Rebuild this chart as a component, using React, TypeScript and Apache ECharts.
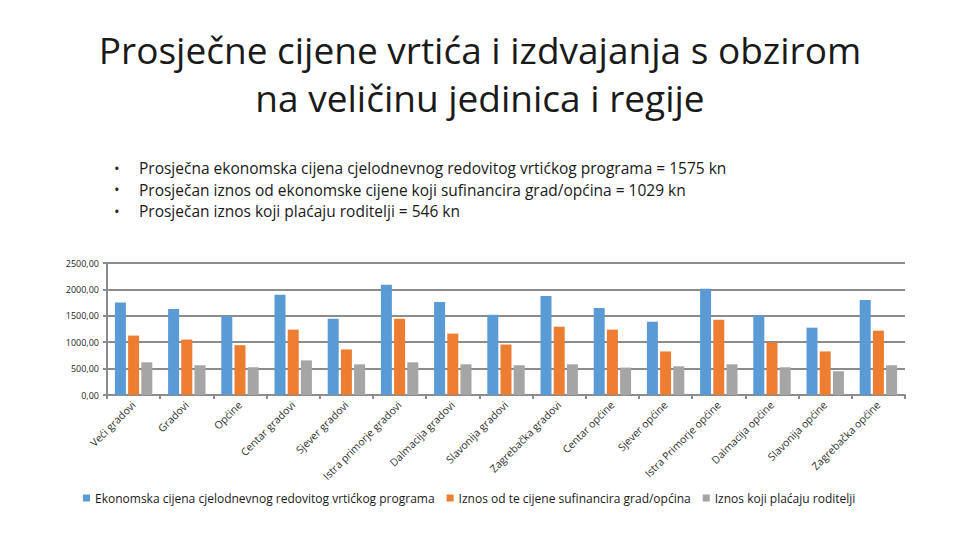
import React, { useEffect, useRef } from "react";
import * as echarts from "echarts";

const categories = [
  "Veći gradovi",
  "Gradovi",
  "Općine",
  "Centar gradovi",
  "Sjever gradovi",
  "Istra primorje gradovi",
  "Dalmacija gradovi",
  "Slavonija gradovi",
  "Zagrebačka gradovi",
  "Centar općine",
  "Sjever općine",
  "Istra Primorje općine",
  "Dalmacija općine",
  "Slavonija općine",
  "Zagrebačka općine",
];

const seriesNames = [
  "Ekonomska cijena cjelodnevnog redovitog vrtićkog programa",
  "Iznos od te cijene sufinancira grad/općina",
  "Iznos koji plaćaju roditelji",
];

const economicPrice = [1750, 1631, 1494, 1900, 1444, 2088, 1763, 1519, 1875, 1650, 1388, 2013, 1506, 1275, 1800];
const cityShare = [1125, 1050, 944, 1238, 863, 1444, 1163, 956, 1294, 1238, 825, 1425, 1000, 825, 1219];
const parentShare = [619, 563, 525, 656, 581, 619, 581, 563, 581, 519, 544, 581, 525, 450, 563];

const titleLines = ["Prosječne cijene vrtića i izdvajanja s obzirom", "na veličinu jedinica i regije"];
const bullets = [
  "Prosječna ekonomska cijena cjelodnevnog redovitog vrtićkog programa = 1575 kn",
  "Prosječan iznos od ekonomske cijene koji sufinancira grad/općina = 1029 kn",
  "Prosječan iznos koji plaćaju roditelji = 546 kn",
];

const colors = ["#5b9bd5", "#ed7d31", "#a5a5a5"];

export default function App() {
  const ref = useRef<HTMLDivElement>(null);
  useEffect(() => {
    if (!ref.current) return;
    const chart = echarts.init(ref.current, null, { renderer: "svg" });
    const dataSets = [economicPrice, cityShare, parentShare];
    const font = "'Open Sans', 'Liberation Sans', sans-serif";
    chart.setOption({
      animation: false,
      color: colors,
      graphic: [
        ...titleLines.map((t, i) => ({
          type: "text",
          left: "center",
          top: 31 + i * 48,
          style: { text: t, font: `37px ${font}`, fill: "#1a1a1a" },
        })),
        ...bullets.map((t, i) => ({
          type: "group",
          left: 114,
          top: 160 + i * 21.5,
          children: [
            { type: "text", x: 0, y: 0, style: { text: "•", font: `15px ${font}`, fill: "#262626" } },
            { type: "text", x: 25, y: 0, style: { text: t, font: `15.5px ${font}`, fill: "#1a1a1a" } },
          ],
        })),
      ],
      legend: {
        bottom: 31,
        left: 78,
        itemWidth: 7,
        itemHeight: 7,
        itemGap: 12,
        icon: "rect",
        textStyle: { fontSize: 12, color: "#1a1a1a", fontFamily: font },
        data: seriesNames,
      },
      grid: { left: 107, right: 55, top: 263, bottom: 145, containLabel: false },
      xAxis: {
        type: "category",
        data: categories,
        axisLine: { lineStyle: { color: "#8c8c8c", width: 2 } },
        axisTick: { show: true, lineStyle: { color: "#8c8c8c", width: 2 }, length: 4 },
        axisLabel: { rotate: 45, fontSize: 10.5, color: "#303030", margin: 8, fontFamily: font },
      },
      yAxis: {
        type: "value",
        min: 0,
        max: 2500,
        interval: 500,
        axisLine: { show: true, lineStyle: { color: "#8c8c8c", width: 2 } },
        axisTick: { show: true, lineStyle: { color: "#8c8c8c", width: 2 }, length: 4 },
        splitLine: { lineStyle: { color: "#8c8c8c", width: 2 } },
        axisLabel: {
          fontSize: 9,
          color: "#262626",
          fontFamily: font,
          margin: 8,
          formatter: (v: number) => v.toFixed(2).replace(".", ","),
        },
      },
      series: seriesNames.map((name, i) => ({
        name,
        type: "bar",
        data: dataSets[i],
        barWidth: 11,
        barGap: "20%",
        itemStyle: { color: colors[i] },
      })),
    });
    return () => chart.dispose();
  }, []);
  return (
    <div
      ref={ref}
      style={{ position: "absolute", left: 0, top: 0, width: 960, height: 540 }}
    />
  );
}
